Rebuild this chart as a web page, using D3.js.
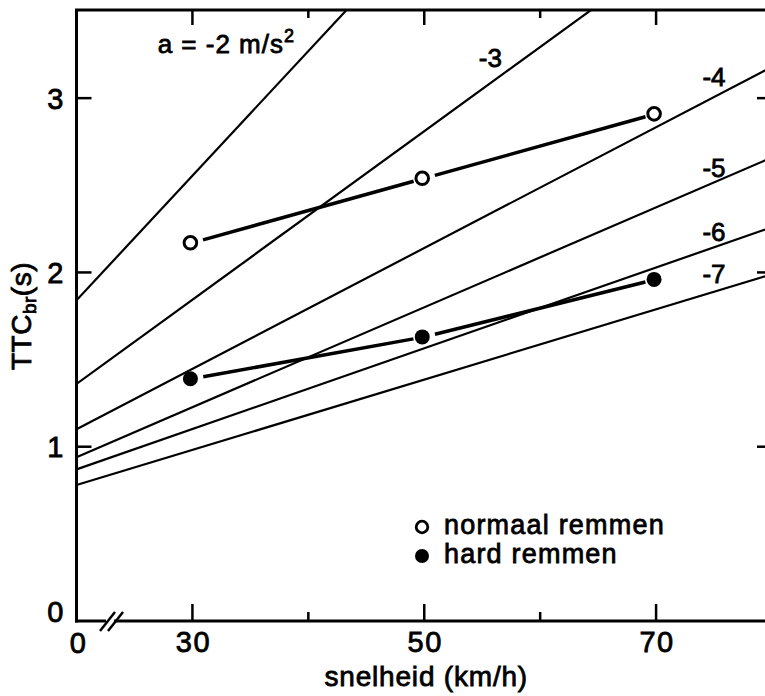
<!DOCTYPE html>
<html><head><meta charset="utf-8">
<script src="https://cdn.jsdelivr.net/npm/d3@7"></script>
<style>
body{margin:0;background:#fff;}
svg{display:block;}
text{font-family:"Liberation Sans",Arial,Helvetica,sans-serif;fill:#000;stroke:#000;stroke-width:0.8px;}
</style></head><body>
<svg id="chart" width="765" height="696"></svg>
<script>
// ---- data ----
const accelerations = ["-2","-3","-4","-5","-6","-7"];
const lineStartV   = [20,20,20,20,20,20];
const lineStartTTC = [1.84,1.36,1.10,0.94,0.87,0.78];
const lineEndV     = [80,80,80,80,80,80];
const lineEndTTC   = [6.13,4.26,3.18,2.66,2.26,1.99];
const speeds = [30,50,70];
const normaalRemmen = [2.17,2.54,2.91];
const hardRemmen = [1.39,1.63,1.96];
const xMajorTicks = [30,50,70];
const xMinorTicks = [40,60];
const yTicks = [1,2,3];
const legendLabels = ["normaal remmen","hard remmen"];
const xTitle = "snelheid (km/h)";

// ---- layout ----
const svg = d3.select("#chart");
const x = d3.scaleLinear().domain([20,80]).range([76.5,772]);
const y = d3.scaleLinear().domain([0,3.5]).range([621,11]);
const X0 = x.range()[0], X1 = x.range()[1], Y0 = y.range()[0], Y1 = y.range()[1];

svg.append("clipPath").attr("id","plot").append("rect")
  .attr("x",X0).attr("y",Y1).attr("width",X1-X0).attr("height",Y0-Y1);

// frame
const g = svg.append("g").attr("stroke","#000").attr("fill","none");
g.append("line").attr("x1",X0).attr("x2",X0).attr("y1",Y1-1).attr("y2",Y0+1.5).attr("stroke-width",3);
g.append("line").attr("x1",X0-1.5).attr("x2",X1).attr("y1",Y1-1).attr("y2",Y1-1).attr("stroke-width",3);
g.append("line").attr("x1",X1).attr("x2",X1).attr("y1",Y1).attr("y2",Y0).attr("stroke-width",3);
// bottom axis with break
g.append("line").attr("x1",X0-1.5).attr("x2",106).attr("y1",Y0).attr("y2",Y0).attr("stroke-width",3);
g.append("line").attr("x1",114).attr("x2",X1).attr("y1",Y0).attr("y2",Y0).attr("stroke-width",3);
[[100,115],[108,123]].forEach(([a,b])=>{
  g.append("line").attr("x1",a).attr("y1",Y0+10).attr("x2",b).attr("y2",Y0-9).attr("stroke-width",2.5);
});

// x ticks bottom & top
xMajorTicks.forEach(v=>{
  g.append("line").attr("x1",x(v)).attr("x2",x(v)).attr("y1",Y0).attr("y2",Y0-17).attr("stroke-width",2.5);
  g.append("line").attr("x1",x(v)).attr("x2",x(v)).attr("y1",Y1).attr("y2",Y1+14).attr("stroke-width",2.5);
});
xMinorTicks.forEach(v=>{
  g.append("line").attr("x1",x(v)).attr("x2",x(v)).attr("y1",Y0).attr("y2",Y0-9).attr("stroke-width",2.5);
  g.append("line").attr("x1",x(v)).attr("x2",x(v)).attr("y1",Y1).attr("y2",Y1+7).attr("stroke-width",2.5);
});
// y ticks left & right
yTicks.forEach(v=>{
  g.append("line").attr("x1",X0).attr("x2",X0+15).attr("y1",y(v)).attr("y2",y(v)).attr("stroke-width",2.5);
  g.append("line").attr("x1",X1).attr("x2",X1-15).attr("y1",y(v)).attr("y2",y(v)).attr("stroke-width",2.5);
});

// tick labels
const fs = 29;
const tl = svg.append("g").attr("font-size",fs).attr("letter-spacing","1.5px");
xMajorTicks.forEach(v=>{
  tl.append("text").attr("x",x(v)+1).attr("y",652).attr("text-anchor","middle").text(v);
});
tl.append("text").attr("x",X0+2).attr("y",653).attr("text-anchor","middle").text("0");
yTicks.forEach(v=>{
  tl.append("text").attr("x",65).attr("y",y(v)).attr("dy","0.36em").attr("text-anchor","end").text(v);
});
tl.append("text").attr("x",65).attr("y",y(0)-9).attr("dy","0.36em").attr("text-anchor","end").text("0");

// axis titles
svg.append("text").attr("x",x(50)+2).attr("y",686).attr("text-anchor","middle")
  .attr("font-size",28).attr("letter-spacing","0.8px").text(xTitle);
const yt = svg.append("text").attr("transform","translate(31,316) rotate(-90)")
  .attr("text-anchor","middle").attr("font-size",28).attr("letter-spacing","0.5px");
yt.append("tspan").text("TTC");
yt.append("tspan").attr("font-size",19).attr("dy",5).text("br");
yt.append("tspan").attr("dy",-5).text("(s)");

// deceleration lines
const lines = svg.append("g").attr("clip-path","url(#plot)");
accelerations.forEach((a,i)=>{
  lines.append("line")
    .attr("x1",x(lineStartV[i])).attr("y1",y(lineStartTTC[i]))
    .attr("x2",x(lineEndV[i])).attr("y2",y(lineEndTTC[i]))
    .attr("stroke","#000").attr("stroke-width",2.2);
});

// curve labels (anchors in data space)
const labelAnchors = [[27,3.26],[54.7,3.18],[74,3.07],[74,2.55],[74,2.18],[74,1.94]];
const cl = svg.append("g").attr("font-size",26);
accelerations.forEach((a,i)=>{
  const t = cl.append("text").attr("x",x(labelAnchors[i][0])).attr("y",y(labelAnchors[i][1]));
  if(i===0){
    t.attr("letter-spacing","1px");
    t.append("tspan").text("a = "+a+" m/s");
    t.append("tspan").attr("font-size",18).attr("dy",-11).text("2");
  } else t.text(a);
});

// measured series
function series(vals, filled){
  const pts = speeds.map((s,i)=>[x(s),y(vals[i])]);
  const gap = 11;
  for(let i=0;i<pts.length-1;i++){
    const [ax,ay]=pts[i],[bx,by]=pts[i+1];
    const d=Math.hypot(bx-ax,by-ay), ux=(bx-ax)/d, uy=(by-ay)/d;
    svg.append("line").attr("x1",ax+ux*gap).attr("y1",ay+uy*gap)
      .attr("x2",bx-ux*gap).attr("y2",by-uy*gap)
      .attr("stroke","#000").attr("stroke-width",3.5);
  }
  svg.selectAll(null).data(pts).enter().append("circle")
    .attr("cx",d=>d[0]-2).attr("cy",d=>d[1])
    .attr("r",filled?7.5:6.3)
    .attr("fill",filled?"#000":"#fff").attr("stroke","#000").attr("stroke-width",filled?0:3);
}
series(normaalRemmen,false);
series(hardRemmen,true);

// legend
const lg = svg.append("g").attr("font-size",27);
[[false,527],[true,556]].forEach(([filled,cy],i)=>{
  lg.append("circle").attr("cx",422).attr("cy",cy).attr("r",filled?7:5.8)
    .attr("fill",filled?"#000":"#fff").attr("stroke","#000").attr("stroke-width",filled?0:2.8);
  lg.append("text").attr("x",444).attr("y",cy+7).attr("letter-spacing","1.2px").text(legendLabels[i]);
});
</script>
</body></html>
